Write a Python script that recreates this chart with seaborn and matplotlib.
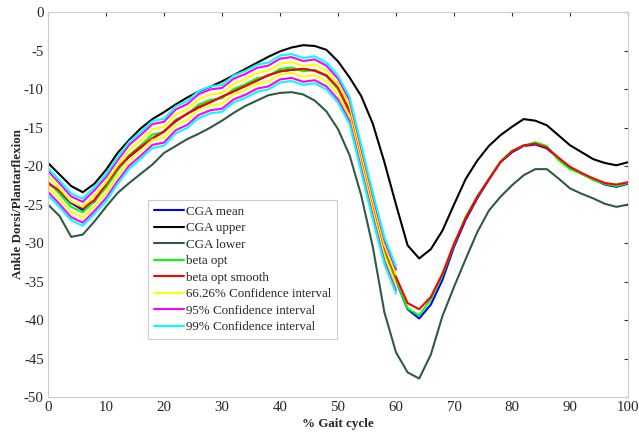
import numpy as np
import pandas as pd
import matplotlib
matplotlib.use("Agg")
import matplotlib.pyplot as plt
import seaborn as sns

# ---- data ----
gait = list(range(0, 101, 2))

cga_mean = [-22.2, -23.3, -24.8, -25.7, -24.6, -22.6, -20.4, -18.8, -17.6, -16.4,
            -15.5, -14.2, -13.2, -12.4, -11.7, -11.0, -10.3, -9.6, -8.9, -8.2,
            -7.7, -7.5, -7.4, -7.6, -8.3, -9.9, -13.0, -18.9, -25.1, -31.0,
            -34.9, -38.6, -39.8, -38.0, -34.8, -30.5, -27.0, -24.2, -21.8, -19.5,
            -18.2, -17.4, -17.2, -17.7, -19.0, -20.2, -21.0, -21.7, -22.4, -22.7,
            -22.3]
cga_upper = [-19.6, -21.1, -22.6, -23.4, -22.3, -20.5, -18.3, -16.6, -15.1, -13.9,
             -13.0, -12.0, -11.1, -10.3, -9.7, -9.0, -8.2, -7.4, -6.6, -5.8,
             -5.1, -4.6, -4.3, -4.4, -4.9, -6.4, -8.5, -10.9, -14.5, -19.5,
             -25.0, -30.3, -32.0, -30.8, -28.4, -25.0, -21.7, -19.3, -17.4, -16.0,
             -14.9, -13.9, -14.1, -14.7, -16.0, -17.3, -18.2, -19.1, -19.6, -19.9,
             -19.5]
cga_lower = [-25.0, -26.5, -29.2, -28.9, -27.2, -25.3, -23.5, -22.2, -21.0, -19.8,
             -18.3, -17.4, -16.5, -15.8, -15.0, -14.1, -13.1, -12.2, -11.5, -10.8,
             -10.5, -10.4, -10.7, -11.5, -12.9, -15.2, -18.6, -23.8, -30.5, -39.0,
             -44.2, -46.8, -47.6, -44.5, -39.5, -35.7, -32.1, -28.6, -25.8, -24.0,
             -22.5, -21.2, -20.4, -20.4, -21.6, -22.9, -23.6, -24.2, -24.9, -25.3,
             -25.0]
beta_opt = [-22.0, -23.6, -25.3, -26.0, -24.5, -22.8, -20.6, -18.6, -17.3, -15.9,
            -15.6, -14.0, -13.3, -12.0, -11.4, -11.2, -10.0, -9.4, -8.6, -8.3,
            -7.4, -7.2, -7.7, -7.5, -8.3, -10.0, -12.8, -19.0, -25.2, -31.0,
            -34.8, -38.5, -39.4, -37.3, -34.2, -30.2, -26.6, -24.0, -21.7, -19.4,
            -18.0, -17.4, -16.9, -17.4, -19.2, -20.4, -21.0, -21.8, -22.3, -22.6,
            -22.2]
beta_smooth = [-22.2, -23.2, -24.6, -25.5, -24.4, -22.4, -20.3, -18.7, -17.5, -16.4,
               -15.5, -14.1, -13.2, -12.3, -11.7, -11.0, -10.3, -9.6, -8.9, -8.2,
               -7.7, -7.5, -7.4, -7.6, -8.2, -9.8, -12.8, -18.7, -24.8, -30.6,
               -34.4, -37.8, -38.6, -37.0, -34.0, -30.1, -26.8, -24.0, -21.7, -19.5,
               -18.1, -17.3, -17.1, -17.6, -18.9, -20.1, -20.9, -21.6, -22.2, -22.4,
               -22.1]
ci_end = 60            # confidence intervals drawn over 0-60 % gait
ci66_half = 0.7
ci95_half = 1.35
ci99_half = 1.75

x_ticks = list(range(0, 101, 10))
y_ticks = list(range(-50, 1, 5))

# ---- style ----
sns.set_style("white")
plt.rcParams["font.family"] = ["Liberation Serif", "DejaVu Serif"]
plt.rcParams["axes.unicode_minus"] = False

fig = plt.figure(figsize=(6.39, 4.32), dpi=100)
ax = fig.add_axes([0.0751, 0.081, 0.9077, 0.891])

df = pd.DataFrame({"x": gait, "mean": cga_mean, "upper": cga_upper,
                   "lower": cga_lower, "beta": beta_opt, "smooth": beta_smooth})
ci = df[df["x"] <= ci_end]

lw = 1.5
sns.lineplot(data=df, x="x", y="mean", color="#0000ff", lw=lw, ax=ax, label="CGA mean")
sns.lineplot(data=df, x="x", y="upper", color="#000000", lw=lw, ax=ax, label="CGA upper")
sns.lineplot(data=df, x="x", y="lower", color="#2f5a46", lw=lw, ax=ax, label="CGA lower")
sns.lineplot(data=df, x="x", y="beta", color="#00ff00", lw=lw, ax=ax, label="beta opt")
sns.lineplot(data=df, x="x", y="smooth", color="#ff0000", lw=lw, ax=ax, label="beta opt smooth")
for half, col, lab in [(ci66_half, "#ffff00", "66.26% Confidence interval"),
                       (ci95_half, "#ff00ff", "95% Confidence interval"),
                       (ci99_half, "#00ffff", "99% Confidence interval")]:
    sns.lineplot(x=ci["x"], y=ci["beta"] + half, color=col, lw=lw, ax=ax, label=lab)
    sns.lineplot(x=ci["x"], y=ci["beta"] - half, color=col, lw=lw, ax=ax, label="_nolegend_")

ax.set_xlim(0, 100)
ax.set_ylim(-50, 0)
ax.set_xticks(x_ticks)
ax.set_yticks(y_ticks)
ax.tick_params(direction="in", length=3, top=True, right=True, labelsize=10.7,
               color="#333333", pad=3)
for s in ax.spines.values():
    s.set_color("#cccccc")
    s.set_linewidth(0.8)
ax.set_xlabel("% Gait cycle", fontsize=9.4, fontweight="bold", labelpad=3)
ax.set_ylabel("Ankle Dorsi/Plantarflexion", fontsize=9.4, fontweight="bold", labelpad=0)

leg = ax.legend(loc="upper left", bbox_to_anchor=(0.172, 0.512), fontsize=9.4,
                frameon=True, fancybox=False, framealpha=1, edgecolor="#cccccc",
                handlelength=2.3, handletextpad=0.2, labelspacing=0.33,
                borderpad=0.45, borderaxespad=0)
leg.get_frame().set_linewidth(0.8)

fig.savefig("out.png", dpi=100)
